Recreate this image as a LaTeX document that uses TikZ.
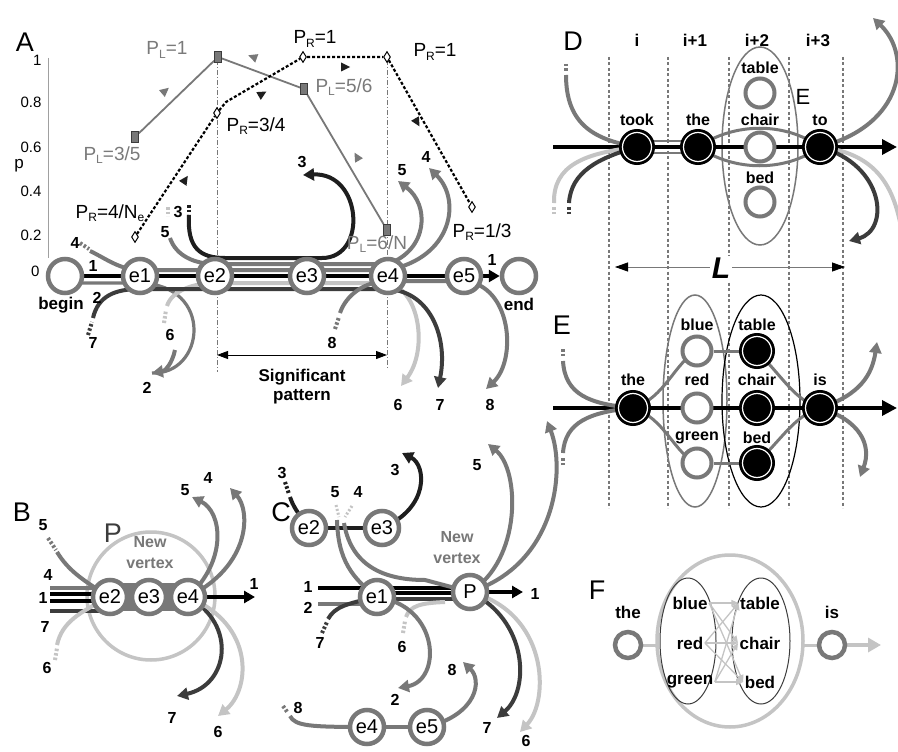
\documentclass[tikz,border=0pt]{standalone}
\usepackage{fontspec}
\setmainfont{Liberation Sans}
\usetikzlibrary{arrows.meta,shapes.geometric}
\definecolor{gmain}{HTML}{787878}
\definecolor{glight}{HTML}{C4C4C4}
\definecolor{gdark}{HTML}{3C3C3C}
\definecolor{gblk}{HTML}{1E1E1E}
\definecolor{gtext}{HTML}{7A7A7A}
\pgfdeclarelayer{bg}
\pgfsetlayers{bg,main}
\newcommand{\fsz}[1]{\fontsize{#1}{#1}\selectfont}
\newcommand{\sbL}[1]{\raisebox{-3.5pt}{\fsz{12}#1}}
\newcommand{\tri}[4]{\fill[#4,shift={(#1,#2)},rotate=#3] (5,0) -- (-4,4.5) -- (-4,-4.5) -- cycle;}
\begin{document}
\begin{tikzpicture}[x=1pt,y=-1pt,
  enode/.style={circle,draw=gmain,line width=4.5pt,fill=white,minimum size=34pt,inner sep=0pt,font=\fsz{20}},
  bnode/.style={circle,fill=black,draw=white,line width=1.2pt,minimum size=29pt,inner sep=0pt,preaction={draw=black,line width=7pt}},
  onode/.style={circle,draw=gmain,line width=4pt,fill=white,minimum size=29pt,inner sep=0pt},
  num/.style={font=\bfseries\fsz{16},inner sep=0pt},
  word/.style={font=\bfseries\fsz{16},inner sep=0pt},
  panel/.style={font=\fsz{27},inner sep=0pt},
  plab/.style={font=\fsz{19},inner sep=0pt},
  strand/.style={line width=3.2pt},
  arcw/.style={line width=4pt},
  stubl/.style={line width=4pt,dash pattern=on 2.5pt off 2pt},
  arrowtip/.style={-{Triangle[length=11pt,width=12pt]}},
  bigtip/.style={-{Triangle[length=15pt,width=15pt]}},
  vdash/.style={gmain,line width=0.7pt,dash pattern=on 5pt off 2pt on 1pt off 2pt},
  cdash/.style={gmain,line width=1.6pt,dash pattern=on 3pt off 2.5pt},
  plsq/.style={rectangle,fill=gmain,draw=gdark,line width=0.8pt,minimum width=7pt,minimum height=11pt,inner sep=0pt},
  prd/.style={diamond,draw=black,fill=white,line width=1pt,minimum width=7pt,minimum height=11pt,inner sep=0pt},
]
\begin{pgfonlayer}{bg}
\fill[white] (0,0) rectangle (898,752);
\end{pgfonlayer}
\useasboundingbox (0,0) rectangle (898,752);

%================ PANEL A =================
\node[panel] (lA) at (25,42) {A};
\node[anchor=east,font=\fsz{15}] (t1) at (45,60) {1};
\node[anchor=east,font=\fsz{15}] (t08) at (45,102) {0.8};
\node[anchor=east,font=\fsz{15}] (t06) at (45,147) {0.6};
\node[anchor=east,font=\fsz{15}] (t04) at (45,191) {0.4};
\node[anchor=east,font=\fsz{15}] (t02) at (45,235) {0.2};
\node[anchor=east,font=\fsz{15}] (t0) at (43,271) {0};
\node[font=\fsz{17}] (pax) at (19,166) {p};

\node[plsq] (pl1) at (135,137) {};
\node[plsq] (pl2) at (218,57) {};
\node[plsq] (pl3) at (304,89) {};
\node[plsq] (pl4) at (387,230) {};
\node[prd] (pr1) at (135,237) {};
\node[prd] (pr2) at (217,113) {};
\node[prd] (pr3) at (303,57) {};
\node[prd] (pr4) at (387,57) {};
\node[prd] (pr5) at (472,207) {};

\node[plab,text=gtext] (lpl1) at (112,155) {P\sbL{L}=3/5};
\node[plab,text=gtext] (lpl2) at (167,50) {P\sbL{L}=1};
\node[plab,text=gtext] (lpl3) at (344,87) {P\sbL{L}=5/6};
\node[plab,text=gtext] (lpl4) at (377,244) {P\sbL{L}=6/N};
\node[plab] (lpr1) at (110,213) {P\sbL{R}=4/N\sbL{e}};
\node[plab] (lpr2) at (256,126) {P\sbL{R}=3/4};
\node[plab] (lpr3) at (315,39) {P\sbL{R}=1};
\node[plab] (lpr4) at (435,52) {P\sbL{R}=1};
\node[plab] (lpr5) at (482,232) {P\sbL{R}=1/3};

\node[enode] (Abegin) at (65,276) {};
\node[enode] (Ae1) at (140,276) {e1};
\node[enode] (Ae2) at (215,276) {e2};
\node[enode] (Ae3) at (307,276) {e3};
\node[enode] (Ae4) at (388,276) {e4};
\node[enode] (Ae5) at (464,276) {e5};
\node[enode] (Aend) at (519,276) {};
\node[word,font=\bfseries\fsz{17}] (lbegin) at (61,305) {begin};
\node[word,font=\bfseries\fsz{17}] (lend) at (519,304) {end};

\node[num] (a1) at (93,266) {1};
\node[num] (a2) at (97,298) {2};
\node[num] (a4) at (75,243) {4};
\node[num] (a7) at (93,343) {7};
\node[num] (a6) at (170,335) {6};
\node[num] (a2b) at (147,388) {2};
\node[num] (a5) at (165,232) {5};
\node[num] (a3) at (178,212) {3};
\node[num] (a3t) at (302,162) {3};
\node[num] (a5r) at (402,170) {5};
\node[num] (a4r) at (426,157) {4};
\node[num] (a8) at (332,343) {8};
\node[num] (a6b) at (398,405) {6};
\node[num] (a7b) at (440,405) {7};
\node[num] (a8b) at (490,405) {8};
\node[num] (a1e) at (492,260) {1};
\node[font=\bfseries\fsz{17}] (sig1) at (302,377) {Significant};
\node[font=\bfseries\fsz{17}] (sig2) at (302,397) {pattern};
\coordinate (sp1) at (217,355);
\coordinate (sp2) at (387,355);

\tri{165}{91}{40}{gmain}
\tri{253}{57}{160}{gmain}
\tri{357}{157}{120}{gmain}
\tri{185}{180}{56}{gblk}
\tri{262}{94}{30}{gblk}
\tri{345}{67}{0}{gblk}
\tri{417}{122}{-60}{gblk}

%================ PANEL B =================
\node[panel] (lB) at (22,512) {B};
\fill[gmain] (110,583) rectangle (188,611);
\node[enode] (Be2) at (110,597) {e2};
\node[enode] (Be3) at (149,597) {e3};
\node[enode] (Be4) at (188,597) {e4};
\node[panel,text=gdark] (BP) at (113,533) {P};
\node[font=\bfseries\fsz{16},text=gmain] (Bnew) at (150,542) {New};
\node[font=\bfseries\fsz{16},text=gmain] (Bvert) at (150,563) {vertex};
\node[num] (b5l) at (43,525) {5};
\node[num] (b4l) at (48,575) {4};
\node[num] (b1l) at (43,598) {1};
\node[num] (b7l) at (45,627) {7};
\node[num] (b6l) at (47,668) {6};
\node[num] (b5) at (185,490) {5};
\node[num] (b4) at (208,478) {4};
\node[num] (b1) at (254,584) {1};
\node[num] (b7) at (172,718) {7};
\node[num] (b6) at (218,732) {6};

%================ PANEL C =================
\node[panel] (lC) at (281,512) {C};
\node[enode] (Ce2) at (309,528) {e2};
\node[enode] (Ce3) at (382,528) {e3};
\node[enode] (Ce1) at (377,597) {e1};
\node[enode] (CP) at (470,592) {P};
\node[enode] (Ce4) at (367,727) {e4};
\node[enode] (Ce5) at (427,727) {e5};
\node[font=\bfseries\fsz{16},text=gmain] (Cnew) at (457,537) {New};
\node[font=\bfseries\fsz{16},text=gmain] (Cvert) at (457,558) {vertex};
\node[num] (c3l) at (282,473) {3};
\node[num] (c5) at (335,492) {5};
\node[num] (c4) at (358,492) {4};
\node[num] (c3r) at (395,470) {3};
\node[num] (c1l) at (308,587) {1};
\node[num] (c2l) at (308,608) {2};
\node[num] (c7l) at (320,643) {7};
\node[num] (c6) at (402,647) {6};
\node[num] (c2b) at (395,700) {2};
\node[num] (c5t) at (477,465) {5};
\node[num] (c1r) at (535,594) {1};
\node[num] (c8l) at (298,708) {8};
\node[num] (c8r) at (452,670) {8};
\node[num] (c7b) at (487,728) {7};
\node[num] (c6b) at (526,741) {6};

%================ PANEL D =================
\node[panel] (lD) at (573,41) {D};
\node[font=\bfseries\fsz{17}] (hi) at (637,40) {i};
\node[font=\bfseries\fsz{17}] (hi1) at (695,40) {i+1};
\node[font=\bfseries\fsz{17}] (hi2) at (757,40) {i+2};
\node[font=\bfseries\fsz{17}] (hi3) at (818,40) {i+3};
\node[bnode] (Dtook) at (637,147) {};
\node[bnode] (Dthe) at (698,147) {};
\node[bnode] (Dto) at (820,147) {};
\node[onode] (Dtable) at (760,93) {};
\node[onode] (Dchair) at (760,147) {};
\node[onode] (Dbed) at (760,202) {};
\node[word] (ltook) at (637,120) {took};
\node[word] (lthe) at (698,120) {the};
\node[word] (lto) at (820,120) {to};
\node[word] (ltable) at (760,68) {table};
\node[word] (lchair) at (760,120) {chair};
\node[word] (lbed) at (760,178) {bed};
\node[font=\fsz{22}] (lEE) at (803,97) {E};
\coordinate (L1) at (615,267);
\coordinate (L2) at (845,267);
\draw[gmain,line width=0.8pt,{Triangle[length=13pt,width=9pt,color=black]}-{Triangle[length=13pt,width=9pt,color=black]}] (L1) -- (L2);
\node[font=\bfseries\itshape\fsz{30},fill=white,inner sep=2pt] (Llab) at (721,268) {L};

%================ PANEL E =================
\node[panel] (lE) at (562,325) {E};
\node[bnode] (Ethe) at (633,408) {};
\node[bnode] (Eis) at (820,408) {};
\node[onode] (Eblue) at (697,351) {};
\node[onode] (Ered) at (697,408) {};
\node[onode] (Egreen) at (697,463) {};
\node[bnode] (Etable) at (757,351) {};
\node[bnode] (Echair) at (757,408) {};
\node[bnode] (Ebed) at (757,463) {};
\node[word] (lEthe) at (633,380) {the};
\node[word] (lEis) at (820,380) {is};
\node[word] (lEblue) at (697,325) {blue};
\node[word] (lEred) at (697,380) {red};
\node[word] (lEgreen) at (697,438) {green};
\node[word] (lEtable) at (757,325) {table};
\node[word] (lEchair) at (757,380) {chair};
\node[word] (lEbed) at (757,438) {bed};

%================ PANEL F =================
\node[panel] (lF) at (597,590) {F};
\node[circle,draw=gmain,line width=4.5pt,fill=white,minimum size=26pt,inner sep=0pt] (Fthe) at (628,645) {};
\node[circle,draw=gmain,line width=4.5pt,fill=white,minimum size=26pt,inner sep=0pt] (Fis) at (832,645) {};
\node[word,font=\bfseries\fsz{17}] (lFthe) at (628,612) {the};
\node[word,font=\bfseries\fsz{17}] (lFis) at (832,612) {is};
\node[font=\bfseries\fsz{17},inner sep=1.5pt] (Fblue) at (690,603) {blue};
\node[font=\bfseries\fsz{17},inner sep=1.5pt] (Fred) at (690,643) {red};
\node[font=\bfseries\fsz{17},inner sep=1.5pt] (Fgreen) at (690,682) {green};
\node[font=\bfseries\fsz{17},inner sep=1.5pt] (Ftable) at (760,603) {table};
\node[font=\bfseries\fsz{17},inner sep=1.5pt] (Fchair) at (760,643) {chair};
\node[font=\bfseries\fsz{17},inner sep=1.5pt] (Fbed) at (760,682) {bed};

%================ CONNECTORS (background) =================
\begin{pgfonlayer}{bg}
% --- A axis and guides
\draw[gmain!70,line width=0.8pt] (48,58) -- (48,258);
\draw[vdash] (217,60) -- (217,372);
\draw[vdash] (387,60) -- (387,368);
\draw[gmain,line width=1.8pt] (pl1) -- (pl2) -- (pl3) -- (pl4);
\draw[black,line width=2.2pt,dash pattern=on 3pt off 2pt] (pr1) -- (pr2) -- (226,102) -- (pr3) -- (pr4) -- (pr5);
\draw[line width=0.9pt,{Triangle[length=11pt,width=8pt]}-{Triangle[length=11pt,width=8pt]}] (sp1) -- (sp2);
% --- A strands
\draw[black,strand] (Abegin.center) -- (Ae5.center);
\draw[black,line width=3.5pt,arrowtip] (Ae5) -- (Aend);
\draw[gmain,strand] ([yshift=-7pt]Abegin.center) -- (140,283) .. controls (215,285) and (205,375) .. (152,373);
\draw[gmain,line width=4pt,arrowtip] (175,350) .. controls (172,364) and (165,371) .. (152,373);
% loop 3
\draw[gblk,stubl] (189,205) -- (189,214);
\draw[glight,stubl] (168,207) -- (168,216);
\draw[gblk,arcw,arrowtip] (189,215) .. controls (187,248) and (200,258) .. (225,258) -- (322,258) .. controls (368,258) and (362,172) .. (303,175);
% path 5
\draw[gmain,arcw,arrowtip] (170,238) .. controls (176,256) and (195,264) .. (215,264) -- (388,264) .. controls (428,250) and (430,205) .. (398,181);
% path 4
\draw[gmain,stubl] (80,243) -- (89,249);
\draw[gmain,arcw,arrowtip] (90,251) .. controls (105,258) and (120,270) .. (140,270) -- (388,270) .. controls (452,258) and (462,200) .. (429,168);
% path 6
\draw[glight,stubl] (164,323) -- (166,310);
\draw[glight,arcw,arrowtip] (167,306) .. controls (172,290) and (195,283) .. (215,283) -- (388,283) .. controls (420,290) and (428,350) .. (401,386);
% path 7
\draw[gdark,stubl] (88,335) -- (92,322);
\draw[gdark,arcw,arrowtip] (93,318) .. controls (98,296) and (115,289) .. (140,289) -- (388,289) .. controls (432,292) and (448,340) .. (438,388);
% path 8
\draw[gmain,stubl] (335,329) -- (339,317);
\draw[gmain,arcw] (340,313) .. controls (346,295) and (365,281) .. (388,281) -- (464,281);
\draw[gmain,arcw,arrowtip] (464,281) .. controls (512,285) and (517,360) .. (486,389);

% --- B
\draw[glight,line width=3.5pt] (151,596) circle [radius=64];
\coordinate (B4s) at (50,588);
\coordinate (B1s) at (50,594);
\coordinate (B1t) at (50,601);
\coordinate (B7s) at (50,611);
\draw[gmain,strand] (B4s) -- (B4s -| Be2);
\draw[black,strand] (B1s) -- (B1s -| Be2);
\draw[black,strand] (B1t) -- (B1t -| Be2);
\draw[gdark,strand] (B7s) -- (B7s -| Be2);
\draw[gmain,stubl] (48,538) -- (56,550);
\draw[gmain,arcw] (57,552) .. controls (68,570) and (82,580) .. (Be2.center);
\draw[glight,stubl] (55,660) -- (57,648);
\draw[glight,arcw] (57,645) .. controls (62,622) and (80,612) .. (Be2.center);
\draw[black,line width=3.5pt,arrowtip] (Be4) -- (255,597);
\draw[gmain,arcw,arrowtip] (Be4.center) .. controls (228,560) and (222,512) .. (192,497);
\draw[gmain,arcw,arrowtip] (Be4.center) .. controls (252,565) and (250,510) .. (230,488);
\draw[gdark,arcw,arrowtip] (Be4.center) .. controls (238,625) and (228,685) .. (177,696);
\draw[glight,arcw,arrowtip] (Be4.center) .. controls (256,625) and (250,690) .. (218,716);

% --- C
\coordinate (C1s) at (318,588);
\coordinate (C2s) at (318,604);
\coordinate (C3a) at (377,593);
\coordinate (C3b) at (377,599);
\draw[black,strand] (C1s) -- (C1s -| CP);
\draw[black,strand] (C3a) -- (C3a -| CP);
\draw[gdark,strand] (C3b) -- (C3b -| CP);
\draw[gmain,strand] (C2s) -- (C2s -| Ce1);
\draw[gdark,stubl] (322,633) -- (327,622);
\draw[gdark,arcw] (328,619) .. controls (335,607) and (345,604) .. (Ce1.center);
\draw[glight,stubl] (403,633) -- (405,621);
\draw[glight,arcw] (406,617) .. controls (410,606) and (420,603) .. (445,602);
\draw[gmain,arcw,arrowtip] (Ce1.center) .. controls (440,606) and (442,680) .. (398,688);
\draw[gblk,strand] (Ce2) -- (Ce3);
\draw[gblk,stubl] (285,482) -- (289,494);
\draw[gblk,arcw] (290,497) .. controls (293,506) and (297,512) .. (Ce2.center);
\draw[glight,line width=3pt,dash pattern=on 2pt off 2pt] (336,505) -- (339,517);
\draw[glight,line width=3pt,dash pattern=on 2pt off 2pt] (352,506) -- (345,517);
\draw[gblk,arcw,arrowtip] (Ce3.center) .. controls (430,508) and (426,465) .. (402,453);
\draw[gmain,arcw] (337,520) .. controls (338,560) and (352,578) .. (Ce1.center);
\draw[gmain,arcw] (344,523) .. controls (352,570) and (390,580) .. (425,580) -- (CP.center);
\draw[black,line width=3.5pt,arrowtip] (CP) -- (523,592);
\draw[gmain,arcw,arrowtip] (CP.center) .. controls (522,560) and (520,470) .. (488,444);
\draw[gmain,arcw,arrowtip] (CP.center) .. controls (556,565) and (566,470) .. (547,421);
\draw[gdark,arcw,arrowtip] (CP.center) .. controls (528,620) and (530,690) .. (497,718);
\draw[glight,arcw,arrowtip] (CP.center) .. controls (548,612) and (550,700) .. (520,732);
\draw[gmain,strand] (Ce4) -- (Ce5);
\draw[gmain,stubl] (283,706) -- (288,713);
\draw[gmain,arcw] (290,716) .. controls (295,726) and (310,727) .. (Ce4.center);
\draw[gmain,arcw,arrowtip] (Ce5.center) .. controls (478,714) and (482,680) .. (463,662);

% --- D/E dashed columns
\foreach \xx in {609,668,729,789,843} \draw[cdash] (\xx,57) -- (\xx,508);
% --- D
\draw[gmain,line width=1.5pt] (760,146) ellipse [x radius=38, y radius=99];
\coordinate (Ds) at (553,147);
\coordinate (De) at (897,147);
\draw[black,line width=3.5pt,bigtip] (Ds) -- (De);
\draw[gmain,line width=2.5pt] ([yshift=6pt]Dtook.center) -- ([yshift=6pt]Dthe.center);
\draw[gmain,line width=2.5pt] ([yshift=-6pt]Dtook.center) -- ([yshift=-6pt]Dthe.center);
\draw[gmain,line width=3pt] (Dthe.center) .. controls (735,122) and (785,122) .. (Dto.center);
\draw[gmain,line width=3pt] (Dthe.center) .. controls (735,172) and (785,172) .. (Dto.center);
\draw[gmain,stubl] (566,64) -- (566,72);
\draw[gmain,arcw] (566,75) .. controls (566,125) and (595,140) .. (Dtook.center);
\draw[glight,stubl] (554,214) -- (554,206);
\draw[glight,arcw] (554,203) .. controls (553,165) and (585,153) .. (Dtook.center);
\draw[gdark,stubl] (569,214) -- (569,206);
\draw[gdark,arcw] (569,203) .. controls (571,172) and (598,158) .. (Dtook.center);
\draw[gmain,arcw,arrowtip] (Dto.center) .. controls (905,125) and (912,55) .. (873,18);
\draw[glight,arcw] (Dto.center) .. controls (875,153) and (892,185) .. (900,222);
\draw[gdark,arcw,arrowtip] (Dto.center) .. controls (885,165) and (890,230) .. (849,241);
% --- E
\draw[gmain,line width=1.5pt] (695,401) ellipse [x radius=32, y radius=106];
\draw[black,line width=1.2pt] (761,401) ellipse [x radius=39, y radius=106];
\coordinate (Es) at (553,408);
\coordinate (Ee) at (897,408);
\draw[black,line width=3.5pt,bigtip] (Es) -- (Ee);
\draw[gmain,line width=3pt] (Ethe.center) .. controls (665,398) and (675,362) .. (Eblue.center);
\draw[gmain,line width=3pt] (Ethe.center) .. controls (665,418) and (675,455) .. (Egreen.center);
\draw[gmain,line width=3pt] (Eblue) -- (Etable);
\draw[gmain,line width=3pt] (Egreen) -- (Ebed);
\draw[gmain,line width=3pt] (Etable.center) .. controls (785,380) and (795,400) .. (Eis.center);
\draw[gmain,line width=3pt] (Ebed.center) .. controls (785,435) and (795,416) .. (Eis.center);
\draw[gmain,stubl] (563,349) -- (563,357);
\draw[gmain,arcw] (563,361) .. controls (565,395) and (590,404) .. (Ethe.center);
\draw[gmain,stubl] (563,465) -- (563,457);
\draw[gmain,arcw] (563,453) .. controls (565,422) and (590,412) .. (Ethe.center);
\draw[gmain,arcw,arrowtip] (Eis.center) .. controls (860,395) and (872,375) .. (877,342);
\draw[gmain,arcw,arrowtip] (Eis.center) .. controls (860,420) and (872,445) .. (860,477);
% --- F
\draw[glight,line width=3.5pt] (730,641) ellipse [x radius=73, y radius=86];
\draw[gdark,line width=1pt] (688,641) ellipse [x radius=28, y radius=63];
\draw[gdark,line width=1pt] (761,641) ellipse [x radius=29, y radius=63];
\draw[glight,line width=3pt] (Fthe) -- (657,645);
\draw[glight,line width=3pt] (803,645) -- (Fis);
\draw[glight,line width=3.5pt,-{Triangle[length=13pt,width=14pt]}] (Fis) -- (881,645);
\foreach \la in {Fblue,Fred,Fgreen}
  \foreach \ra in {Ftable,Fchair,Fbed}
    \draw[glight,line width=1.3pt,-{Triangle[length=7pt,width=6pt]}] (\la.east) -- (\ra.west);
\end{pgfonlayer}
\end{tikzpicture}
\end{document}
